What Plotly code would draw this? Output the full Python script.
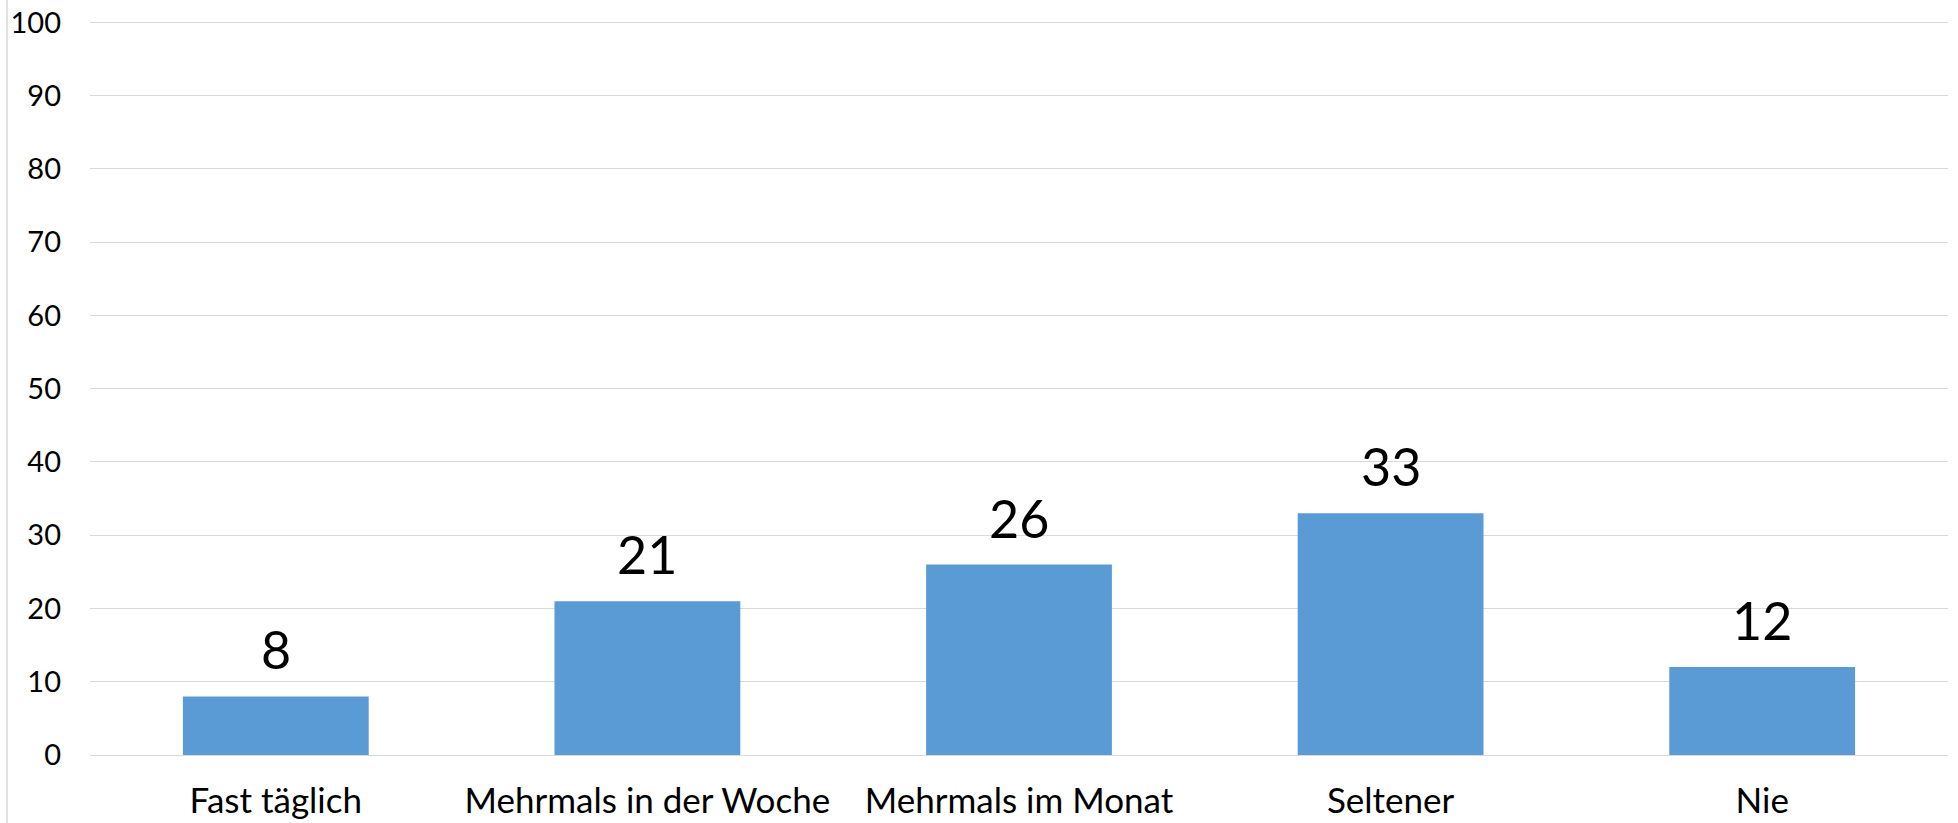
"""Bar chart: Häufigkeit (Prozent) nach Kategorie."""

import plotly.graph_objects as go

categories = ["Fast täglich", "Mehrmals in der Woche", "Mehrmals im Monat", "Seltener", "Nie"]
values = [8, 21, 26, 33, 12]
y_ticks = [0, 10, 20, 30, 40, 50, 60, 70, 80, 90, 100]

BAR_COLOR = "#5b9bd5"
GRID_COLOR = "#d9d9d9"
FONT = "Lato"

fig = go.Figure()

fig.add_trace(
    go.Bar(
        x=categories,
        y=values,
        marker=dict(color=BAR_COLOR, line=dict(width=0)),
        hoverinfo="x+y",
    )
)

# value labels above the bars
for cat, val in zip(categories, values):
    fig.add_annotation(
        x=cat,
        y=val,
        text=str(val),
        showarrow=False,
        yanchor="bottom",
        yshift=14,
        font=dict(family=FONT, size=52, color="black"),
    )

# left chart border
fig.add_shape(
    type="line",
    xref="paper",
    yref="paper",
    x0=-83 / 1858,
    x1=-83 / 1858,
    y0=-1,
    y1=2,
    line=dict(color=GRID_COLOR, width=1.5),
)

fig.update_layout(
    width=1958,
    height=823,
    margin=dict(l=90, r=10, t=21, b=68),
    paper_bgcolor="white",
    plot_bgcolor="white",
    bargap=0.5,
    showlegend=False,
    font=dict(family=FONT, color="black"),
    xaxis=dict(
        automargin=False,
        showgrid=False,
        showline=False,
        ticks="",
        ticklabelstandoff=22,
        tickfont=dict(family=FONT, size=35, color="black"),
    ),
    yaxis=dict(
        automargin=False,
        # a hair above 100 so the top gridline is still drawn
        range=[0, 100.2],
        tickvals=y_ticks,
        ticklabeloverflow="allow",
        showgrid=True,
        gridcolor=GRID_COLOR,
        gridwidth=1.3,
        zeroline=True,
        zerolinecolor=GRID_COLOR,
        zerolinewidth=1.3,
        showline=False,
        ticks="",
        ticklabelstandoff=28,
        tickfont=dict(family=FONT, size=29, color="black"),
    ),
)

# drop the browser's default 8px body margin so the figure sits at (0, 0)
fig.write_html(
    "out.html",
    config={"displayModeBar": False},
    post_script="document.body.style.margin = '0'; document.body.style.overflow = 'hidden';",
)
